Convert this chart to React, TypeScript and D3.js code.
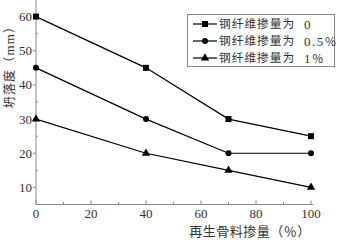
import React from "react";
import * as d3 from "d3";

const xValues = [0, 40, 70, 100];
const seriesPrefix = "钢纤维掺量为";
const seriesSuffixNum = ["0", "0.5", "1"];
const seriesSuffixPct = ["", "％", "％"];
const seriesA = [60, 45, 30, 25];
const seriesB = [45, 30, 20, 20];
const seriesC = [30, 20, 15, 10];
const markers = ["square", "circle", "triangle"];
const xTicks = [0, 20, 40, 60, 80, 100];
const xMinor = [10, 30, 50, 70, 90];
const yTicks = [10, 20, 30, 40, 50, 60];
const yMinor = [15, 25, 35, 45, 55];
const xLabel = "再生骨料掺量（％）";
const yLabelMain = "坍落度（";
const yLabelUnit = "mm";
const yLabelEnd = "）";

const W = 345, H = 240;
const x = d3.scaleLinear().domain([0, 100]).range([36, 311]);
const y = d3.scaleLinear().domain([5, 65]).range([204.5, -0.5]);

const serif = "'Liberation Serif', 'DejaVu Serif', serif";
const cjk = "'Noto Sans CJK SC', sans-serif";
const axisColor = "#8a8a8a";
const textColor = "#333";

function Marker({ type, cx, cy }: { type: string; cx: number; cy: number }) {
  if (type === "square") return <rect x={cx - 3} y={cy - 3} width={6} height={6} fill="#000" />;
  if (type === "circle") return <circle cx={cx} cy={cy} r={3} fill="#000" />;
  const s = d3.symbol().type(d3.symbolTriangle).size(30)();
  return <path d={s || ""} transform={`translate(${cx},${cy})`} fill="#000" />;
}

export default function App() {
  const series = [seriesA, seriesB, seriesC];
  const line = d3.line<number>().x((_, i) => x(xValues[i])).y((v) => y(v));
  const y0 = y(5);
  return (
    <svg width={W} height={H} style={{ position: "absolute", left: 0, top: 0, background: "#fff" }}>
      {/* axes */}
      <line x1={x(0)} x2={x(0)} y1={0} y2={y0} stroke={axisColor} strokeWidth={1} />
      <line x1={x(0)} x2={x(100) + 2} y1={y0} y2={y0} stroke={axisColor} strokeWidth={1} />
      {xTicks.map((t) => (
        <g key={"xt" + t}>
          <line x1={x(t)} x2={x(t)} y1={y0} y2={y0 - 4} stroke={axisColor} />
          <text x={x(t)} y={y0 + 13} textAnchor="middle" fontFamily={serif} fontSize={13} fill={textColor}>{t}</text>
        </g>
      ))}
      {xMinor.map((t) => (
        <line key={"xm" + t} x1={x(t)} x2={x(t)} y1={y0} y2={y0 - 2.5} stroke={axisColor} />
      ))}
      {yTicks.map((t) => (
        <g key={"yt" + t}>
          <line x1={x(0)} x2={x(0) - 3} y1={y(t)} y2={y(t)} stroke={axisColor} />
          <text x={x(0) - 4} y={y(t) + 4.5} textAnchor="end" fontFamily={serif} fontSize={13} fill={textColor}>{t}</text>
        </g>
      ))}
      {yMinor.map((t) => (
        <line key={"ym" + t} x1={x(0)} x2={x(0) + 2} y1={y(t)} y2={y(t)} stroke={axisColor} />
      ))}
      {/* axis labels */}
      <text transform={`translate(13.5,64) rotate(-90)`} textAnchor="middle" fontFamily={cjk} fontSize={12} letterSpacing={1.2} fill={textColor}>
        {yLabelMain}
        <tspan fontFamily={serif} fontSize={13}>{yLabelUnit}</tspan>
        {yLabelEnd}
      </text>
      <text x={250} y={236} textAnchor="middle" fontFamily={cjk} fontSize={13} letterSpacing={0.5} fill={textColor}>{xLabel}</text>
      {/* series */}
      {series.map((s, si) => (
        <g key={"s" + si}>
          <path d={line(s) || ""} fill="none" stroke="#000" strokeWidth={1.2} />
          {s.map((v, i) => (
            <Marker key={i} type={markers[si]} cx={x(xValues[i])} cy={y(v)} />
          ))}
        </g>
      ))}
      {/* legend */}
      <rect x={187.5} y={14.5} width={147} height={52} fill="#fff" stroke={axisColor} strokeWidth={1} />
      {seriesSuffixNum.map((num, i) => {
        const ly = 24 + i * 17;
        return (
          <g key={"lg" + i}>
            <line x1={193} x2={217} y1={ly} y2={ly} stroke="#000" strokeWidth={1.2} />
            <Marker type={markers[i]} cx={205} cy={ly} />
            <text x={219} y={ly + 4.3} fontFamily={cjk} fontSize={11.7} letterSpacing={1} fill={textColor}>
              {seriesPrefix}
            </text>
            <text x={304} y={ly + 4.5} fontFamily={serif} fontSize={13} letterSpacing={1.5} fill={textColor}>
              {num}
              <tspan fontFamily={cjk} fontSize={11.5} letterSpacing={0}>{seriesSuffixPct[i]}</tspan>
            </text>
          </g>
        );
      })}
    </svg>
  );
}
